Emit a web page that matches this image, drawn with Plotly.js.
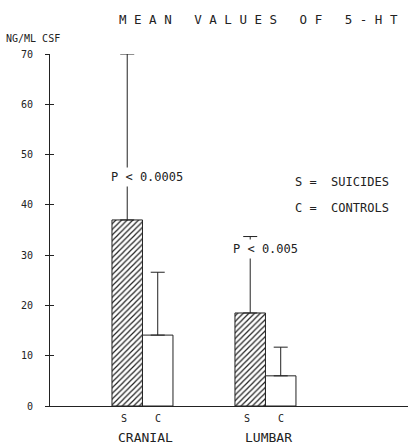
<!DOCTYPE html>
<html>
<head>
<meta charset="utf-8">
<script src="https://cdn.plot.ly/plotly-3.0.1.min.js"></script>
<style>html,body{margin:0;padding:0;background:#fff;}#chart{width:408px;height:445px;}</style>
</head>
<body>
<div id="chart"></div>
<script>
// Data
var groups = ["CRANIAL", "LUMBAR"];
var suicides = [37, 18.5];
var suicidesErr = [33, 15.2];
var controls = [14.1, 6.0];
var controlsErr = [12.5, 5.7];
var pLabels = ["P < 0.0005", "P < 0.005"];
var yTicks = [0, 10, 20, 30, 40, 50, 60, 70];
var titleText = "M E A N   V A L U E S   O F   5 - H T";
var yUnit = "NG/ML CSF";
var legendLines = ["S =  SUICIDES", "C =  CONTROLS"];

var mono = "DejaVu Sans Mono, Liberation Mono, monospace";
var ink = "#222";

var traces = [
  {
    type: "bar", name: "S", x: groups, y: suicides,
    marker: { color: "white", line: { color: ink, width: 1 },
      pattern: { shape: "/", fgcolor: ink, bgcolor: "white", size: 4, solidity: 0.3 } },
    error_y: { type: "data", array: suicidesErr, arrayminus: [0, 0], symmetric: false,
      color: ink, thickness: 1, width: 7 },
    cliponaxis: false
  },
  {
    type: "bar", name: "C", x: groups, y: controls,
    marker: { color: "white", line: { color: ink, width: 1 } },
    error_y: { type: "data", array: controlsErr, arrayminus: [0, 0], symmetric: false,
      color: ink, thickness: 1, width: 7 },
    cliponaxis: false
  },
  { type: "scatter", x: [], y: [], yaxis: "y2", showlegend: false, hoverinfo: "skip" }
];

var L = 50, R = 0, T = 54, B = 39, W = 408, H = 445;
var pw = W - L - R, ph = H - T - B;
function px(x) { return (x - L) / pw; }
function py(y) { return (H - B - y) / ph; }

var ann = [];
groups.forEach(function (g, i) {
  ann.push({ x: i - 0.125, y: 0, xref: "x", yref: "y", text: "S", showarrow: false,
    yanchor: "middle", yshift: -12, xshift: -3, font: { family: mono, size: 10, color: ink } });
  ann.push({ x: i + 0.125, y: 0, xref: "x", yref: "y", text: "C", showarrow: false,
    yanchor: "middle", yshift: -12, font: { family: mono, size: 10, color: ink } });
  ann.push({ x: i, y: 0, xref: "x", yref: "y", text: groups[i], showarrow: false,
    yanchor: "middle", yshift: -31, xshift: 3, font: { family: mono, size: 13, color: ink } });
});
ann.push({ x: -0.25, y: 45.5, xref: "x", yref: "y", text: pLabels[0], showarrow: false,
  xanchor: "left", xshift: -4, bgcolor: "white", borderpad: 2, font: { family: mono, size: 12, color: ink } });
ann.push({ x: 0.75, y: 31.2, xref: "x", yref: "y", text: pLabels[1], showarrow: false,
  xanchor: "left", xshift: -5, bgcolor: "white", borderpad: 2, font: { family: mono, size: 12, color: ink } });
ann.push({ x: px(293), y: py(182), xref: "paper", yref: "paper", text: legendLines[0], showarrow: false,
  xanchor: "left", yanchor: "middle", font: { family: mono, size: 12, color: ink } });
ann.push({ x: px(293), y: py(208), xref: "paper", yref: "paper", text: legendLines[1], showarrow: false,
  xanchor: "left", yanchor: "middle", font: { family: mono, size: 12, color: ink } });
ann.push({ x: px(4), y: py(39), xref: "paper", yref: "paper", text: yUnit, showarrow: false,
  xanchor: "left", yanchor: "middle", font: { family: mono, size: 10, color: ink } });
ann.push({ x: px(117), y: py(20), xref: "paper", yref: "paper", text: titleText.replace(/ /g, "\u00a0"),
  showarrow: false, xanchor: "left", yanchor: "middle", font: { family: mono, size: 12.5, color: ink } });

var layout = {
  width: W, height: H,
  margin: { l: L, r: R, t: T, b: B, pad: 0 },
  paper_bgcolor: "white", plot_bgcolor: "white",
  showlegend: false,
  barmode: "group", bargap: 0.504, bargroupgap: 0,
  xaxis: { type: "category", range: [-0.752, 2.159], showgrid: false, zeroline: false,
    showline: true, linecolor: ink, linewidth: 1, ticks: "", showticklabels: false, fixedrange: true },
  yaxis: { range: [0, 70], tickvals: yTicks, ticktext: yTicks.map(String), showgrid: false, zeroline: false,
    showline: true, linecolor: ink, linewidth: 1, ticks: "outside", ticklen: 4, tickcolor: ink,
    ticklabelstandoff: 10, tickfont: { family: mono, size: 10, color: ink }, fixedrange: true },
  yaxis2: { range: [0, 70], overlaying: "y", anchor: "x", side: "left", tickvals: yTicks,
    showgrid: false, zeroline: false, showline: false, ticks: "inside", ticklen: 4, tickcolor: ink,
    showticklabels: false, fixedrange: true },
  annotations: ann
};

Plotly.newPlot("chart", traces, layout, { displayModeBar: false, staticPlot: true });
</script>
</body>
</html>
